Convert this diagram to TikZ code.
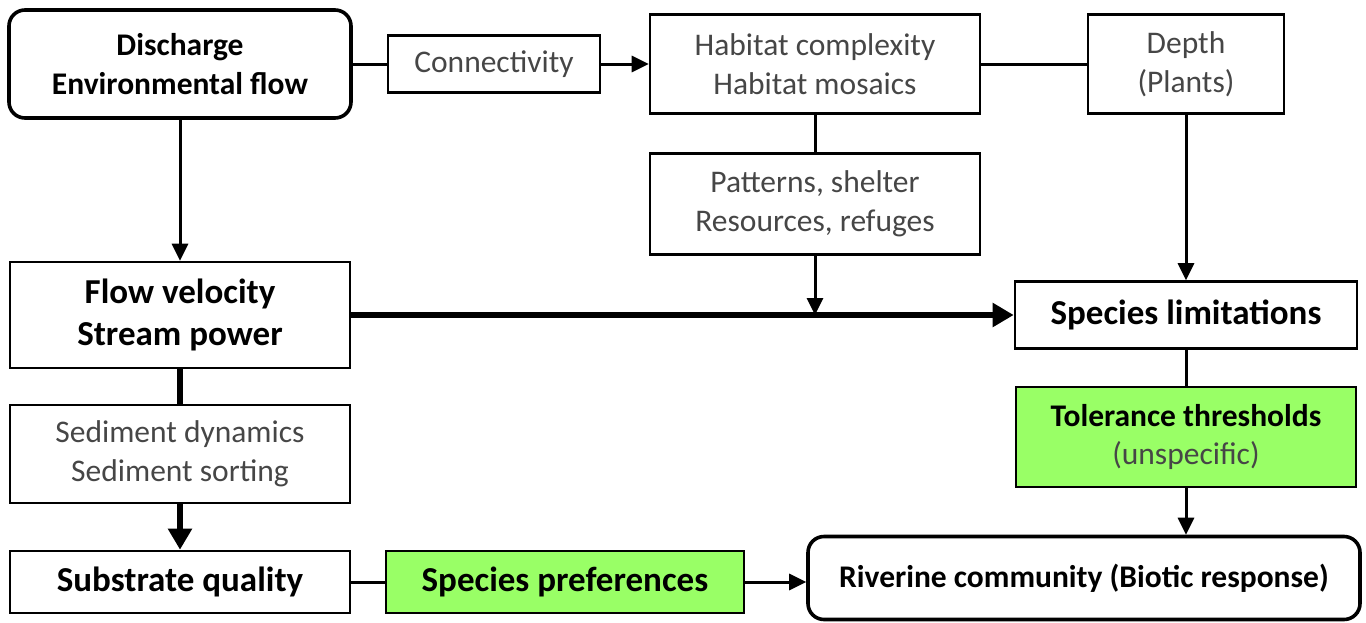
\documentclass[tikz,border=0pt]{standalone}
\usepackage{fontspec}
\setmainfont{Carlito}
\usetikzlibrary{arrows.meta}

\definecolor{boxgreen}{RGB}{153,255,102}
\definecolor{txtgray}{RGB}{70,70,70}

\begin{document}
\begin{tikzpicture}[x=1pt,y=-1pt,
    box/.style={draw,line width=2.6pt,align=center,inner sep=0pt,text=txtgray,
      font=\fontsize{31.5}{38.5}\selectfont},
    boldbox/.style={box,text=black,font=\fontsize{31.5}{38.5}\selectfont\bfseries},
    bigbox/.style={box,text=black,font=\fontsize{35}{42.5}\selectfont\bfseries},
    endbox/.style={boldbox,rounded corners=16pt,line width=3.6pt},
    link/.style={line width=3pt},
    arr/.style={link,-{Triangle[length=17pt,width=16pt]}},
    thick link/.style={line width=6pt},
    thickarr/.style={thick link,-{Triangle[length=21pt,width=23pt]}}]
          \useasboundingbox (0,0) rectangle (1366,622);

          % top row
          \node[endbox,minimum width=342pt,minimum height=108pt] (dis) at (180,64) {Discharge\\Environmental flow};
          \node[box,minimum width=212pt,minimum height=57pt] (conn) at (494,64) {Connectivity};
          \node[box,minimum width=330pt,minimum height=99pt] (hab) at (815,64) {Habitat complexity\\Habitat mosaics};
          \node[box,minimum width=196pt,minimum height=99pt] (depth) at (1186,64) {Depth\\(Plants)};
          \node[box,minimum width=330pt,minimum height=101pt] (pat) at (815,204) {Patterns, shelter\\Resources, refuges};

          % left column
          \node[bigbox,minimum width=340pt,minimum height=106pt] (flow) at (180,315) {Flow velocity\\Stream power};
          \node[box,minimum width=340pt,minimum height=98pt] (sed) at (180,454) {Sediment dynamics\\Sediment sorting};
          \node[bigbox,minimum width=340pt,minimum height=62pt] (sub) at (180,582) {Substrate quality};
          \node[bigbox,fill=boxgreen,minimum width=358pt,minimum height=62pt] (pref) at (565,582) {Species preferences};

          % right column
          \node[bigbox,minimum width=342pt,minimum height=67pt] (lim) at (1186,315) {Species limitations};
          \node[box,fill=boxgreen,minimum width=340pt,minimum height=100pt] (tol) at (1186,437)
            {\textcolor{black}{\bfseries Tolerance thresholds}\\(unspecific)};
          \node[endbox,minimum width=552pt,minimum height=83pt] (riv) at (1084,578) {Riverine community (Biotic response)};

          \coordinate (join) at (pat.south |- flow.east);

          \draw[link] (dis) -- (conn);
          \draw[arr] (conn) -- (hab);
          \draw[link] (hab) -- (depth);
          \draw[link] (hab) -- (pat);
          \draw[arr] (depth) -- (lim);
          \draw[arr] (pat) -- (join);
          \draw[arr] (dis) -- (flow);
          \draw[thickarr] (flow) -- (lim);
          \draw[thick link] (flow) -- (sed);
          \draw[thickarr] (sed) -- (sub);
          \draw[link] (sub) -- (pref);
          \draw[arr] (pref.east) -- (pref.east -| riv.west);
          \draw[link] (lim) -- (tol);
          \draw[arr] (tol.south) -- (tol.south |- riv.north);
        \end{tikzpicture}
\end{document}
